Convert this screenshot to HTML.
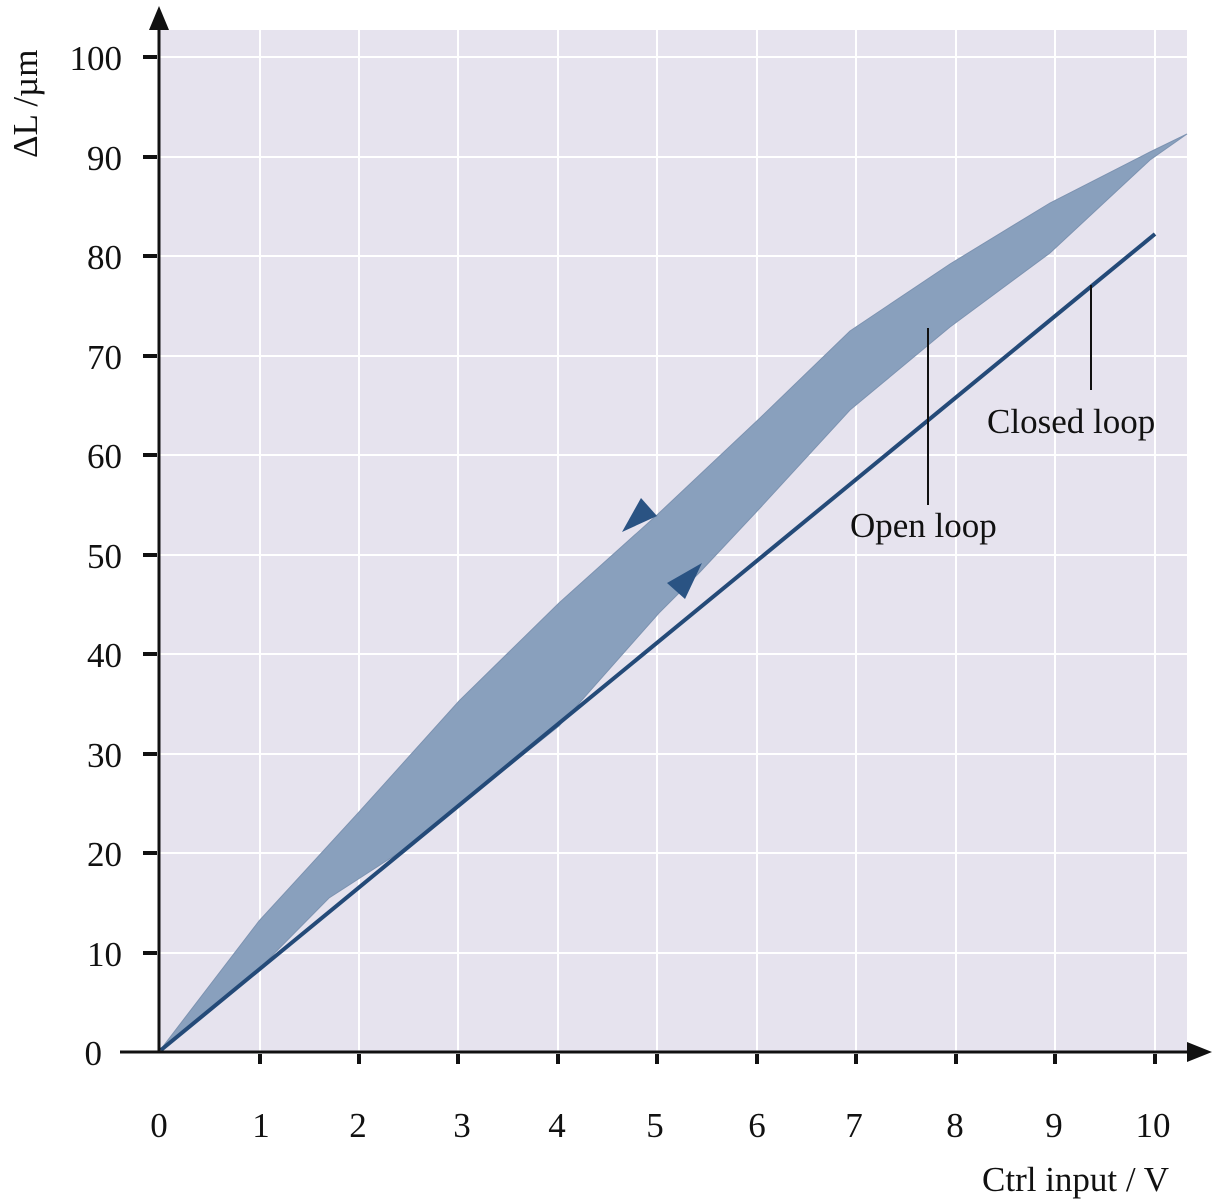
<!DOCTYPE html><html><head><style>body{margin:0;background:#fff}svg{display:block}text{font-family:"Liberation Serif",serif;fill:#111}</style></head><body>
<svg width="1215" height="1200" xmlns="http://www.w3.org/2000/svg">
<rect x="159" y="30" width="1028" height="1022" fill="#e6e3ee"/>
<g stroke="#fff" stroke-width="2">
<line x1="260" y1="30" x2="260" y2="1052"/><line x1="359" y1="30" x2="359" y2="1052"/><line x1="458" y1="30" x2="458" y2="1052"/><line x1="558" y1="30" x2="558" y2="1052"/><line x1="657" y1="30" x2="657" y2="1052"/><line x1="757" y1="30" x2="757" y2="1052"/><line x1="856" y1="30" x2="856" y2="1052"/><line x1="956" y1="30" x2="956" y2="1052"/><line x1="1055" y1="30" x2="1055" y2="1052"/><line x1="1155" y1="30" x2="1155" y2="1052"/>
<line x1="159" y1="57" x2="1187" y2="57"/><line x1="159" y1="157" x2="1187" y2="157"/><line x1="159" y1="256" x2="1187" y2="256"/><line x1="159" y1="356" x2="1187" y2="356"/><line x1="159" y1="455" x2="1187" y2="455"/><line x1="159" y1="555" x2="1187" y2="555"/><line x1="159" y1="654" x2="1187" y2="654"/><line x1="159" y1="754" x2="1187" y2="754"/><line x1="159" y1="853" x2="1187" y2="853"/><line x1="159" y1="953" x2="1187" y2="953"/>
</g>
<polygon points="161,1049 259,921 359,812 459,701 559,603 657,515 760,418 850,331 950,264 1050,203 1150,152 1187,134 1150,160 1050,253 950,327 850,410 760,508 700,572 659,613 559,726 459,806 400,852 329,898 250,978 161,1050" fill="#89a0bd" stroke="#7d93b1" stroke-width="1"/>
<line x1="161" y1="1050" x2="1155" y2="234" stroke="#244a78" stroke-width="4"/>
<polygon points="622,532 641,498 657,516" fill="#2a5383"/>
<polygon points="667,583 702,563 685,599" fill="#2a5383"/>
<g stroke="#111" stroke-width="2"><line x1="928" y1="328" x2="928" y2="505"/><line x1="1091" y1="285" x2="1091" y2="390"/></g>
<text x="850" y="537" font-size="35">Open loop</text>
<text x="987" y="433" font-size="35">Closed loop</text>
<g stroke="#111" stroke-width="3">
<line x1="159" y1="1052" x2="159" y2="20"/><line x1="120" y1="1052" x2="1195" y2="1052"/>
</g>
<polygon points="149,30 169,30 159,6" fill="#111"/><polygon points="1187,1042 1187,1062 1212,1052" fill="#111"/>
<g stroke="#111" stroke-width="4">
<line x1="143" y1="57" x2="157" y2="57"/><line x1="143" y1="157" x2="157" y2="157"/><line x1="143" y1="256" x2="157" y2="256"/><line x1="143" y1="356" x2="157" y2="356"/><line x1="143" y1="455" x2="157" y2="455"/><line x1="143" y1="555" x2="157" y2="555"/><line x1="143" y1="654" x2="157" y2="654"/><line x1="143" y1="754" x2="157" y2="754"/><line x1="143" y1="853" x2="157" y2="853"/><line x1="143" y1="953" x2="157" y2="953"/>
<line x1="260" y1="1054" x2="260" y2="1064"/><line x1="359" y1="1054" x2="359" y2="1064"/><line x1="458" y1="1054" x2="458" y2="1064"/><line x1="558" y1="1054" x2="558" y2="1064"/><line x1="657" y1="1054" x2="657" y2="1064"/><line x1="757" y1="1054" x2="757" y2="1064"/><line x1="856" y1="1054" x2="856" y2="1064"/><line x1="956" y1="1054" x2="956" y2="1064"/><line x1="1055" y1="1054" x2="1055" y2="1064"/><line x1="1155" y1="1054" x2="1155" y2="1064"/>
</g>
<g font-size="35" text-anchor="end">
<text x="122" y="70">100</text><text x="122" y="170">90</text><text x="122" y="269">80</text><text x="122" y="369">70</text><text x="122" y="468">60</text><text x="122" y="568">50</text><text x="122" y="667">40</text><text x="122" y="767">30</text><text x="122" y="866">20</text><text x="122" y="966">10</text><text x="102" y="1065">0</text>
</g>
<g font-size="35" text-anchor="middle">
<text x="159" y="1137">0</text><text x="261" y="1137">1</text><text x="358" y="1137">2</text><text x="462" y="1137">3</text><text x="557" y="1137">4</text><text x="655" y="1137">5</text><text x="757" y="1137">6</text><text x="854" y="1137">7</text><text x="955" y="1137">8</text><text x="1054" y="1137">9</text><text x="1153" y="1137">10</text>
</g>
<text x="982" y="1191" font-size="35">Ctrl input / V</text>
<text transform="translate(37,158) rotate(-90)" font-size="35">ΔL /µm</text>
</svg></body></html>
